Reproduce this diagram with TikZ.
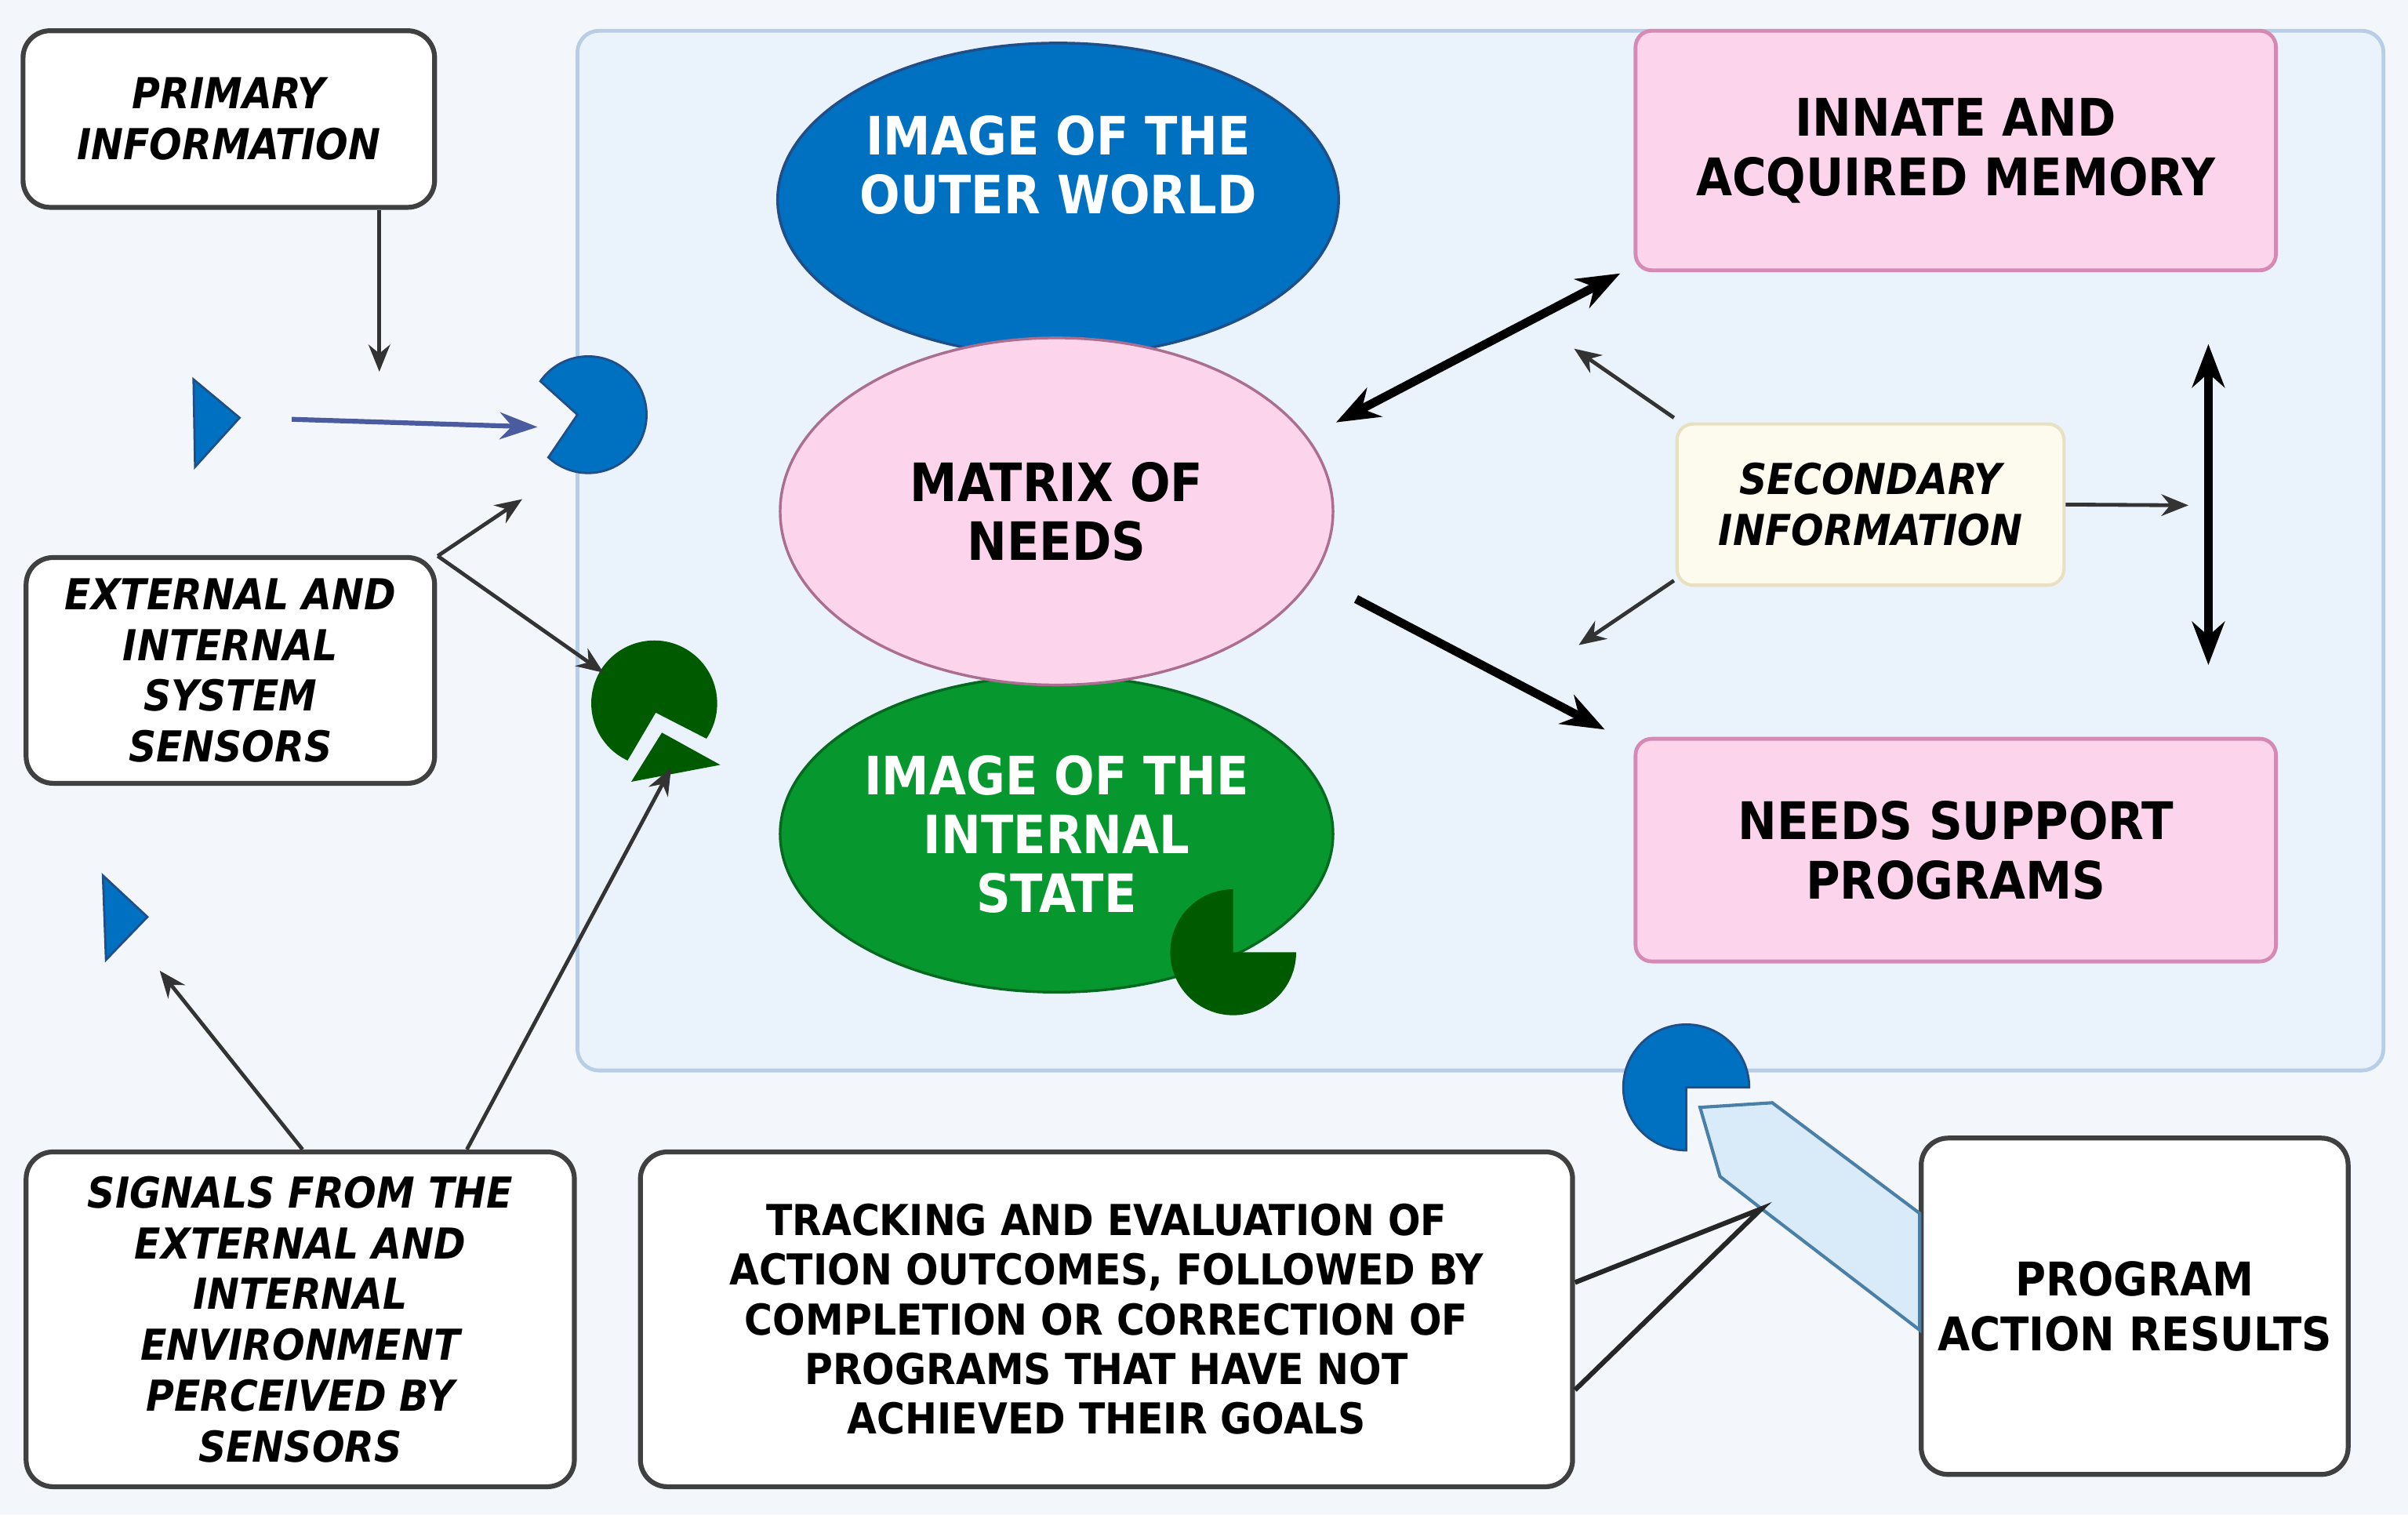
\documentclass[tikz,border=0pt]{standalone}
\usepackage{fontspec}
\setmainfont{DejaVu Sans Condensed}
\usetikzlibrary{arrows.meta,calc}
\definecolor{bg}{HTML}{F3F7FC}
\definecolor{panel}{HTML}{EAF2FB}
\definecolor{paneld}{HTML}{B8CDE6}
\definecolor{blu}{HTML}{0070C0}
\definecolor{bluD}{HTML}{1F4E89}
\definecolor{pink}{HTML}{FCD5EC}
\definecolor{pinkD}{HTML}{D48AB5}
\definecolor{grn}{HTML}{06982E}
\definecolor{dgrn}{HTML}{005A00}
\definecolor{cream}{HTML}{FDFBEE}
\definecolor{creamD}{HTML}{E8E0C0}
\definecolor{callout}{HTML}{D9EAF8}
\definecolor{calloutD}{HTML}{4A7FA8}
\definecolor{arr}{HTML}{4A5BA0}
\tikzset{
  wbox/.style={draw=black!75,line width=0.9pt,fill=white,rounded corners=5pt,align=center,inner sep=0pt},
  pbox/.style={draw=pinkD,line width=0.7pt,fill=pink,rounded corners=3pt,align=center,inner sep=0pt,font=\fontsize{9.6}{11}\selectfont\bfseries},
  itl/.style={font=\fontsize{7.9}{9.4}\selectfont\bfseries\itshape},
  reg/.style={font=\fontsize{7.9}{9.2}\selectfont\bfseries},
  ell/.style={ellipse,draw,line width=0.5pt,inner sep=0pt,align=center,font=\fontsize{9.8}{10.9}\selectfont\bfseries},
  thin/.style={draw=black!80,line width=0.7pt,-{Stealth[length=5pt,width=4pt]}},
  thick/.style={draw=black,line width=1.6pt,-{Stealth[length=8pt,width=6pt]}},
}
\usetikzlibrary{shapes.geometric}
\begin{document}
\begin{tikzpicture}
\useasboundingbox (0,0) rectangle (15.68,-9.86);
\fill[bg] (0,0) rectangle (15.68,-9.86);
\draw[paneld,fill=panel,line width=0.7pt,rounded corners=4pt] (3.76,-0.20) rectangle (15.52,-6.97);

% left boxes
\node[wbox,itl,minimum width=2.68cm,minimum height=1.15cm] (prim) at (1.49,-0.775) {PRIMARY\\INFORMATION};
\node[wbox,itl,minimum width=2.66cm,minimum height=1.47cm] (sens) at (1.50,-4.365) {EXTERNAL AND\\INTERNAL\\SYSTEM\\SENSORS};
\node[wbox,itl,minimum width=3.57cm,minimum height=2.18cm] (sig) at (1.955,-8.59) {SIGNALS FROM THE\\EXTERNAL AND\\INTERNAL\\ENVIRONMENT\\PERCEIVED BY\\SENSORS};
\node[wbox,reg,minimum width=6.07cm,minimum height=2.18cm] (trk) at (7.205,-8.59) {TRACKING AND EVALUATION OF\\ACTION OUTCOMES, FOLLOWED BY\\COMPLETION OR CORRECTION OF\\PROGRAMS THAT HAVE NOT\\ACHIEVED THEIR GOALS};
\node[wbox,font=\fontsize{8.6}{10.2}\selectfont\bfseries,minimum width=2.78cm,minimum height=2.19cm] (par) at (13.90,-8.505) {PROGRAM\\ACTION RESULTS};

% ellipses
\node[ell,draw=bluD,fill=blu,text=white,minimum width=3.64cm,minimum height=2.04cm] (outer) at (6.89,-1.30) {IMAGE OF THE\\OUTER WORLD\\[2pt]};
\node[ell,draw=grn!70!black,fill=grn,text=white,minimum width=3.60cm,minimum height=2.06cm] (inner) at (6.88,-5.43) {IMAGE OF THE\\INTERNAL\\STATE};
\node[ell,draw=pinkD!80!black,fill=pink,minimum width=3.60cm,minimum height=2.26cm] (mat) at (6.88,-3.33) {MATRIX OF\\NEEDS};

% pink boxes
\node[pbox,minimum width=4.17cm,minimum height=1.56cm] (mem) at (12.735,-0.98) {INNATE AND\\ACQUIRED MEMORY};
\node[pbox,minimum width=4.17cm,minimum height=1.45cm] (nsp) at (12.735,-5.535) {NEEDS SUPPORT\\PROGRAMS};
\node[draw=creamD,fill=cream,rounded corners=3pt,line width=0.6pt,itl,align=center,inner sep=0pt,minimum width=2.52cm,minimum height=1.05cm] (sec) at (12.18,-3.285) {SECONDARY\\INFORMATION};

% pacmen and triangles
\fill[blu,draw=bluD,line width=0.4pt] (1.26,-2.47) -- (1.56,-2.72) -- (1.27,-3.04) -- cycle;
\fill[blu,draw=bluD,line width=0.4pt] (0.67,-5.70) -- (0.96,-5.97) -- (0.69,-6.25) -- cycle;
\coordinate (pc1) at (3.83,-2.70);
\fill[blu,draw=bluD,line width=0.4pt] (3.76,-2.70) -- ($(pc1)+(145:0.38)$) arc[start angle=145,end angle=-133,radius=0.38] -- cycle;
\coordinate (pc2) at (4.26,-4.58);
\fill[dgrn] (4.27,-4.64) -- ($(pc2)+(-34:0.41)$) arc[start angle=-34,end angle=245,radius=0.41] -- cycle;
\fill[dgrn] (4.11,-5.09) -- (4.31,-4.77) -- (4.69,-4.98) -- cycle;
\coordinate (tri2) at (4.37,-5.00);
\coordinate (pc3) at (8.03,-6.20);
\fill[dgrn] (pc3) -- ($(pc3)+(90:0.41)$) arc[start angle=90,end angle=360,radius=0.41] -- cycle;
\coordinate (pc4) at (10.98,-7.08);
\fill[blu,draw=bluD,line width=0.4pt] (pc4) -- ($(pc4)+(0:0.41)$) arc[start angle=0,end angle=270,radius=0.41] -- cycle;
\draw[calloutD,fill=callout,line width=0.6pt] (11.07,-7.21) -- (11.54,-7.18) -- (12.50,-7.90) -- (12.50,-8.66) -- (11.47,-7.87) -- (11.20,-7.66) -- cycle;
\coordinate (cp) at (11.47,-7.87);

% connectors
\coordinate (a1) at (2.47,-2.42);
\draw[thin] (prim.south -| a1) -- (a1);
\draw[arr,line width=0.9pt,-{Stealth[length=7pt,width=5pt]}] (1.90,-2.73) -- (3.50,-2.78);
\coordinate (sc) at (2.85,-3.62);
\coordinate (s1) at (3.40,-3.25);
\coordinate (s2) at (3.93,-4.38);
\draw[thin] (sc) -- (s1);
\draw[thin] (sc) -- (s2);
\coordinate (g1) at (1.04,-6.32);
\draw[thin] (sig.north -| 1.97,0) -- (g1);
\draw[thin] (sig.north -| 3.04,0) -- (tri2);
\draw[thick,{Stealth[length=8pt,width=6pt]}-{Stealth[length=8pt,width=6pt]}] (8.70,-2.75) -- (10.55,-1.78);
\draw[thick] (8.83,-3.90) -- (10.45,-4.75);
\draw[thick,{Stealth[length=8pt,width=6pt]}-{Stealth[length=8pt,width=6pt]}] (14.38,-2.24) -- (14.38,-4.33);
\coordinate (q1) at (10.25,-2.27);
\coordinate (q2) at (10.28,-4.20);
\coordinate (q3) at (14.25,-3.29);
\draw[thin] (10.90,-2.72) -- (q1);
\draw[thin] (10.90,-3.78) -- (q2);
\draw[thin] (sec.east) -- (q3);
\draw[black!85,line width=0.9pt] (trk.east |- 0,-8.35) -- (cp) -- (trk.east |- 0,-9.05);
\end{tikzpicture}
\end{document}
